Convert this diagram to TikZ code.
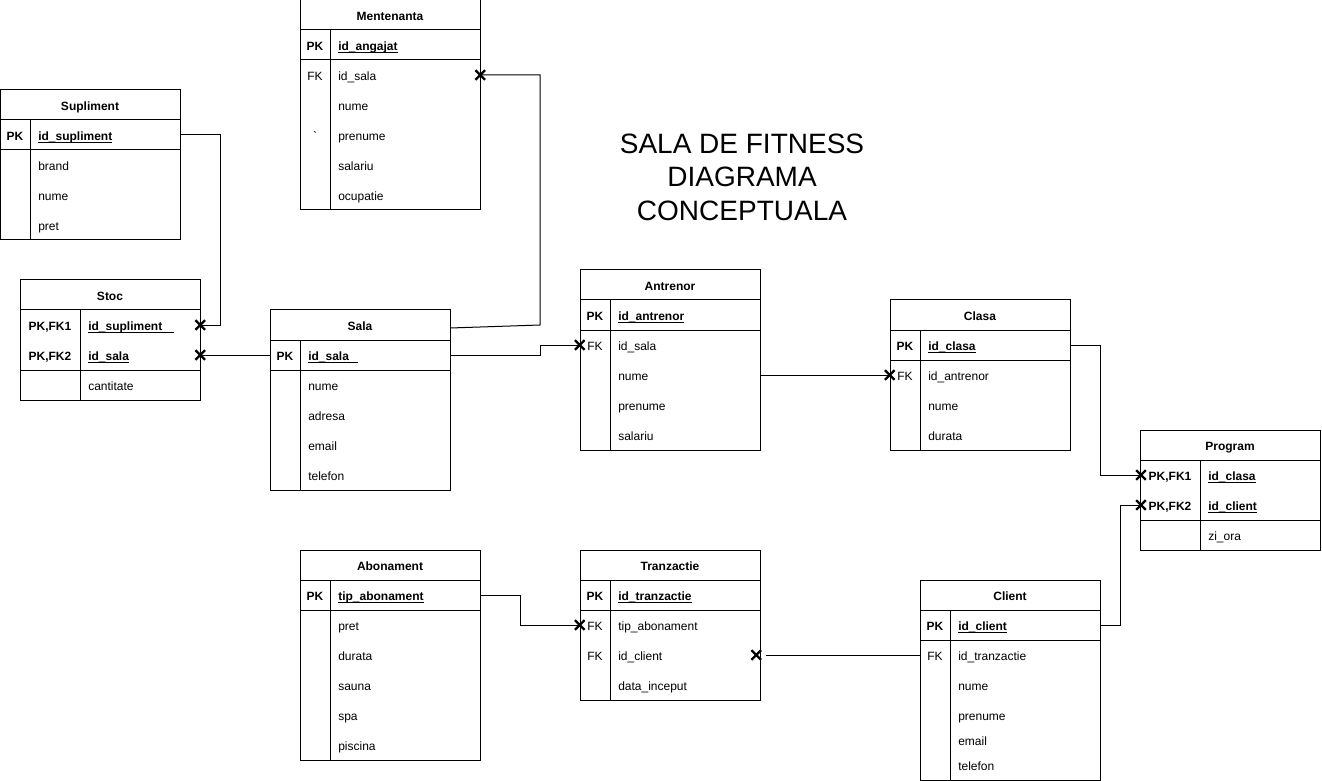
\documentclass[tikz,border=0pt]{standalone}
\usepackage{fontspec}
\setmainfont{Liberation Sans}
\usetikzlibrary{calc}
\newcommand{\pkf}[2][0pt]{\textbf{\setbox0\hbox{#2}\rlap{\rule[-1.7pt]{\dimexpr\wd0+#1\relax}{0.6pt}}\box0}}
\newcommand{\tabhead}[4]{% name, x, y, title
  \node[hdrbox] (#1) at ({#2+90},{#3+15}) {};
  \node[hdrtxt] at ({#2+90},{#3+15.8}) {#4};
}
\newcommand{\tabrow}[6]{% name, x, top, keyw, key, field
  \node[rowbox] (#1) at ({#2+90},{#3+15}) {};
  \node[keytxt] at ({#2+#4/2},{#3+15.8}) {#5};
  \node[fieldtxt] at ({#2+#4+8},{#3+15.8}) {#6};
}
\newcommand{\tabframe}[5]{% x, y, h, pkend, keyw
  \draw[tab] (#1,#2) rectangle ++(180,#3);
  \draw[tab] (#1,{#2+30}) -- ++(180,0);
  \draw[tab] (#1,{#2+#4}) -- ++(180,0);
  \draw[tab] ({#1+#5},{#2+30}) -- ({#1+#5},{#2+#3});
}
\tikzset{
  tab/.style={line width=0.75pt, draw=black},
  conn/.style={line width=0.75pt, draw=black},
  rowbox/.style={minimum width=135pt, minimum height=22.5pt, inner sep=0pt, draw=none},
  hdrbox/.style={minimum width=135pt, minimum height=22.5pt, inner sep=0pt, draw=none},
  hdrtxt/.style={anchor=center, inner sep=0pt, text height=6.5pt, text depth=0pt, font=\fontsize{9}{11}\selectfont\bfseries},
  keytxt/.style={anchor=center, inner sep=0pt, text height=6.5pt, text depth=0pt, font=\fontsize{9}{11}\selectfont},
  fieldtxt/.style={anchor=west, inner sep=0pt, text height=6.5pt, text depth=0pt, font=\fontsize{9}{11}\selectfont},
  xm/.pic={\draw[line width=1.7pt] (-4.8,-4.8)--(4.8,4.8) (-4.8,4.8)--(4.8,-4.8);},
}
\begin{document}
\begin{tikzpicture}[x=0.75pt, y=-0.75pt]
\useasboundingbox (0,0) rectangle (1322,781);
\fill[white] (0,0) rectangle (1322,781);

% Title
\node[font=\fontsize{21}{25.1}\selectfont, align=center] (title) at (742,177) {SALA DE FITNESS\\DIAGRAMA\\CONCEPTUALA};

% Mentenanta
\tabframe{300}{0}{210}{60}{30}
\tabhead{ment-h}{300}{0}{Mentenanta}
\tabrow{ment-pk}{300}{30}{30}{\textbf{PK}}{\pkf{id\_angajat}}
\tabrow{ment-r1}{300}{60}{30}{FK}{id\_sala}
\tabrow{ment-r2}{300}{90}{30}{}{nume}
\tabrow{ment-r3}{300}{120}{30}{\textasciigrave}{prenume}
\tabrow{ment-r4}{300}{150}{30}{}{salariu}
\tabrow{ment-r5}{300}{180}{30}{}{ocupatie}

% Supliment
\tabframe{0}{90}{150}{60}{30}
\tabhead{sup-h}{0}{90}{Supliment}
\tabrow{sup-pk}{0}{120}{30}{\textbf{PK}}{\pkf{id\_supliment}}
\tabrow{sup-r1}{0}{150}{30}{}{brand}
\tabrow{sup-r2}{0}{180}{30}{}{nume}
\tabrow{sup-r3}{0}{210}{30}{}{pret}

% Stoc
\tabframe{20}{280}{120}{90}{60}
\tabhead{stoc-h}{20}{280}{Stoc}
\tabrow{stoc-r1}{20}{310}{60}{\textbf{PK,FK1}}{\pkf[9pt]{id\_supliment}}
\tabrow{stoc-r2}{20}{340}{60}{\textbf{PK,FK2}}{\pkf{id\_sala}}
\tabrow{stoc-r3}{20}{370}{60}{}{cantitate}

% Sala
\tabframe{270}{310}{180}{60}{30}
\tabhead{sala-h}{270}{310}{Sala}
\tabrow{sala-pk}{270}{340}{30}{\textbf{PK}}{\pkf[7pt]{id\_sala}}
\tabrow{sala-r1}{270}{370}{30}{}{nume}
\tabrow{sala-r2}{270}{400}{30}{}{adresa}
\tabrow{sala-r3}{270}{430}{30}{}{email}
\tabrow{sala-r4}{270}{460}{30}{}{telefon}

% Antrenor
\tabframe{580}{270}{180}{60}{30}
\tabhead{antr-h}{580}{270}{Antrenor}
\tabrow{antr-pk}{580}{300}{30}{\textbf{PK}}{\pkf{id\_antrenor}}
\tabrow{antr-r1}{580}{330}{30}{FK}{id\_sala}
\tabrow{antr-r2}{580}{360}{30}{}{nume}
\tabrow{antr-r3}{580}{390}{30}{}{prenume}
\tabrow{antr-r4}{580}{420}{30}{}{salariu}

% Clasa
\tabframe{890}{300}{150}{60}{30}
\tabhead{clasa-h}{890}{300}{Clasa}
\tabrow{clasa-pk}{890}{330}{30}{\textbf{PK}}{\pkf{id\_clasa}}
\tabrow{clasa-r1}{890}{360}{30}{FK}{id\_antrenor}
\tabrow{clasa-r2}{890}{390}{30}{}{nume}
\tabrow{clasa-r3}{890}{420}{30}{}{durata}

% Program
\tabframe{1140}{430}{120}{90}{60}
\tabhead{prog-h}{1140}{430}{Program}
\tabrow{prog-r1}{1140}{460}{60}{\textbf{PK,FK1}}{\pkf{id\_clasa}}
\tabrow{prog-r2}{1140}{490}{60}{\textbf{PK,FK2}}{\pkf{id\_client}}
\tabrow{prog-r3}{1140}{520}{60}{}{zi\_ora}

% Abonament
\tabframe{300}{550}{210}{60}{30}
\tabhead{abon-h}{300}{550}{Abonament}
\tabrow{abon-pk}{300}{580}{30}{\textbf{PK}}{\pkf{tip\_abonament}}
\tabrow{abon-r1}{300}{610}{30}{}{pret}
\tabrow{abon-r2}{300}{640}{30}{}{durata}
\tabrow{abon-r3}{300}{670}{30}{}{sauna}
\tabrow{abon-r4}{300}{700}{30}{}{spa}
\tabrow{abon-r5}{300}{730}{30}{}{piscina}

% Tranzactie
\tabframe{580}{550}{150}{60}{30}
\tabhead{tranz-h}{580}{550}{Tranzactie}
\tabrow{tranz-pk}{580}{580}{30}{\textbf{PK}}{\pkf{id\_tranzactie}}
\tabrow{tranz-r1}{580}{610}{30}{FK}{tip\_abonament}
\tabrow{tranz-r2}{580}{640}{30}{FK}{id\_client}
\tabrow{tranz-r3}{580}{670}{30}{}{data\_inceput}

% Client
\tabframe{920}{580}{200}{60}{30}
\tabhead{client-h}{920}{580}{Client}
\tabrow{client-pk}{920}{610}{30}{\textbf{PK}}{\pkf{id\_client}}
\tabrow{client-r1}{920}{640}{30}{FK}{id\_tranzactie}
\tabrow{client-r2}{920}{670}{30}{}{nume}
\tabrow{client-r3}{920}{700}{30}{}{prenume}
\tabrow{client-r4}{920}{725}{30}{}{email}
\tabrow{client-r5}{920}{750}{30}{}{telefon}

% Connectors
\coordinate (mbend) at (540,325);
\draw[conn] (sup-pk.east) -- ++(40,0) |- (stoc-r1.east);
\draw[conn] (sala-pk.west) -- (stoc-r2.east);
\draw[conn] ([yshift=-2.25pt]sala-h.east) -- (mbend) |- (ment-r1.east);
\draw[conn] (sala-pk.east) -- ++(90,0) |- (antr-r1.west);
\draw[conn] (antr-r2.east) -- (clasa-r1.west);
\draw[conn] (clasa-pk.east) -- ++(30,0) |- (prog-r1.west);
\draw[conn] (client-pk.east) -- ++(20,0) |- (prog-r2.west);
\draw[conn] (abon-pk.east) -- ++(40,0) |- (tranz-r1.west);
\draw[conn] (client-r1.west) -- ([xshift=4.5pt]tranz-r2.east);

% Cross marks
\pic at (stoc-r1.east) {xm};
\pic at (stoc-r2.east) {xm};
\pic at (ment-r1.east) {xm};
\pic at (antr-r1.west) {xm};
\pic at (clasa-r1.west) {xm};
\pic at ([xshift=1pt]prog-r1.west) {xm};
\pic at ([xshift=1pt]prog-r2.west) {xm};
\pic at (tranz-r1.west) {xm};
\pic at ([xshift=-3pt]tranz-r2.east) {xm};
\end{tikzpicture}
\end{document}
